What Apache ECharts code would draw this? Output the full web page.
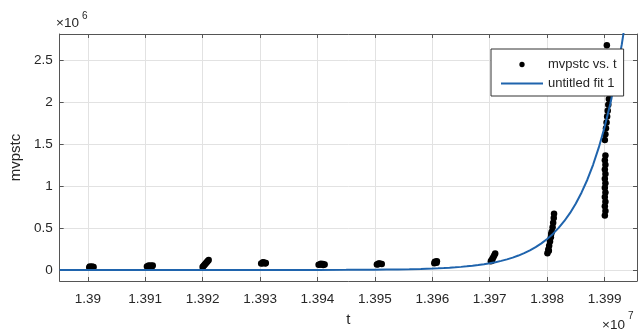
<!DOCTYPE html>
<html>
<head>
<meta charset="utf-8">
<script src="https://cdn.jsdelivr.net/npm/echarts@6/dist/echarts.min.js"></script>
<style>
  html, body { margin: 0; padding: 0; background: #fff; }
  #chart { width: 640px; height: 332px; }
</style>
</head>
<body>
<div id="chart"></div>
<script>
// Observed samples: t and mvpstc
const obsT = [
  13900250, 13900400, 13900550, 13900700, 13900850, 13901000, 13900350, 13900900,
  13910300, 13910500, 13910700, 13910900, 13911100, 13911300, 13910600, 13911200,
  13920000, 13920150, 13920300, 13920450, 13920600, 13920750, 13920900, 13921050,
  13930200, 13930400, 13930600, 13930800, 13931000, 13930500, 13930900,
  13940200, 13940450, 13940700, 13940950, 13941250, 13940600, 13941000,
  13950350, 13950550, 13950750, 13950950, 13951200, 13950650,
  13960350, 13960500, 13960650, 13960800, 13960450, 13960750,
  13970200, 13970350, 13970500, 13970650, 13970800, 13970950, 13970400,
  13980050, 13980200, 13980300, 13980350, 13980500, 13980650, 13980700, 13980800, 13980950, 13981050, 13981150, 13981200,
  13990050, 13990150, 13990050, 13990150, 13990050, 13990150, 13990050, 13990150, 13990050, 13990150, 13990050, 13990150, 13990050, 13990150,
  13990050, 13990150, 13990250, 13990350, 13990450, 13990550, 13990650, 13990750, 13990850, 13990950, 13991050,
  13990400
];
const obsV = [
  30000, 33000, 36000, 38000, 40000, 37000, 41000, 31000,
  42000, 45000, 48000, 50000, 52000, 55000, 53000, 45000,
  36000, 48000, 60000, 72000, 84000, 96000, 108000, 120000,
  78000, 82000, 86000, 88000, 84000, 92000, 78000,
  62000, 66000, 69000, 71000, 66000, 75000, 61000,
  66000, 70000, 74000, 76000, 72000, 79000,
  82000, 90000, 98000, 106000, 100000, 88000,
  105000, 120000, 138000, 156000, 176000, 196000, 112000,
  200000, 245000, 230000, 290000, 340000, 390000, 430000, 455000, 510000, 565000, 620000, 670000,
  650000, 705000, 760000, 815000, 870000, 925000, 980000, 1035000, 1090000, 1145000, 1200000, 1255000, 1310000, 1365000,
  1550000, 1620000, 1690000, 1760000, 1830000, 1900000, 1970000, 2040000, 2110000, 2180000, 2250000,
  2680000
];

// Exponential fit curve samples
const fitT = [
  13895100, 13920000, 13930000, 13940000, 13945000, 13950000, 13952000, 13954000,
  13956000, 13958000, 13960000, 13961000, 13962000, 13963000, 13964000, 13965000,
  13966000, 13967000, 13968000, 13969000, 13970000, 13971000, 13972000, 13973000,
  13974000, 13975000, 13976000, 13977000, 13978000, 13979000, 13980000, 13981000,
  13982000, 13983000, 13984000, 13985000, 13986000, 13987000, 13988000, 13989000,
  13990000, 13991000, 13992000, 13993000, 13994000
];
const fitV = [
  0, 40, 180, 830, 1800, 3800, 5200, 7000,
  9500, 12900, 17500, 20400, 23700, 27600, 32200, 37500,
  43700, 50900, 59300, 69000, 80400, 93600, 109000, 127000,
  148000, 172400, 200800, 234000, 272600, 317600, 370000, 431000,
  502000, 585000, 681000, 794000, 925000, 1077000, 1255000, 1462000,
  1702000, 1983000, 2310000, 2691000, 3135000
];

const tRange = [13895100, 13995650];
const vRange = [-131000, 2815000];

const FONT = '"Liberation Sans", Arial, Helvetica, sans-serif';
const TXT = '#262626';
const AXC = '#555555';
const GRIDC = '#e2e2e2';
const FITC = '#1f64ad';

const fmtT = v => String(parseFloat((v / 1e7).toFixed(4)));
const fmtV = v => String(parseFloat((v / 1e6).toFixed(2)));

function boxAxis(extra) {
  return Object.assign({
    type: 'value',
    axisLine: { show: true, onZero: false, lineStyle: { color: AXC, width: 1 } },
    axisTick: { show: true, inside: true, length: 4, lineStyle: { color: AXC } },
    axisLabel: { show: false },
    splitLine: { show: false }
  }, extra);
}

const chart = echarts.init(document.getElementById('chart'), null, { renderer: 'canvas' });

chart.setOption({
  animation: false,
  backgroundColor: '#ffffff',
  textStyle: { fontFamily: FONT },
  grid: { left: 55, right: 3, top: 34, bottom: 51, containLabel: false },
  xAxis: [
    boxAxis({
      position: 'bottom',
      min: tRange[0], max: tRange[1], splitNumber: 10,
      axisLabel: {
        show: true, formatter: fmtT, showMinLabel: false, showMaxLabel: false,
        margin: 11, fontSize: 13.5, color: TXT, fontFamily: FONT
      },
      splitLine: { show: true, lineStyle: { color: GRIDC, width: 1 } },
      name: 't', nameLocation: 'middle', nameGap: 31,
      nameTextStyle: { fontSize: 15, color: TXT, fontFamily: FONT }
    }),
    boxAxis({ position: 'top', min: tRange[0], max: tRange[1], splitNumber: 10 })
  ],
  yAxis: [
    boxAxis({
      position: 'left',
      min: vRange[0], max: vRange[1], splitNumber: 6,
      axisLabel: {
        show: true, formatter: fmtV, showMinLabel: false, showMaxLabel: false,
        margin: 7, fontSize: 13.5, color: TXT, fontFamily: FONT
      },
      splitLine: { show: true, lineStyle: { color: GRIDC, width: 1 } },
      name: 'mvpstc', nameLocation: 'middle', nameGap: 28,
      nameTextStyle: { fontSize: 15, color: TXT, fontFamily: FONT }
    }),
    boxAxis({ position: 'right', min: vRange[0], max: vRange[1], splitNumber: 6 })
  ],
  legend: {
    orient: 'vertical',
    left: 491, top: 49,
    padding: [9, 7, 6, 10],
    itemGap: 6,
    itemWidth: 42,
    itemHeight: 12,
    backgroundColor: '#ffffff',
    borderColor: '#333333',
    borderWidth: 1,
    borderRadius: 0,
    textStyle: { fontSize: 13, color: TXT, fontFamily: FONT },
    data: [
      { name: 'mvpstc vs. t', icon: 'path://M0,0M10,10M2.8,5a2.2,2.2 0 1,0 4.4,0a2.2,2.2 0 1,0 -4.4,0' },
      { name: 'untitled fit 1', icon: 'path://M0,0L42,0L42,2L0,2Z' }
    ]
  },
  graphic: [
    { type: 'text', left: 56, top: 16, style: { text: '×10', font: '13.5px ' + FONT, fill: TXT } },
    { type: 'text', left: 82, top: 11, style: { text: '6', font: '10px ' + FONT, fill: TXT } },
    { type: 'text', left: 602, top: 318, style: { text: '×10', font: '13.5px ' + FONT, fill: TXT } },
    { type: 'text', left: 628, top: 311, style: { text: '7', font: '10px ' + FONT, fill: TXT } }
  ],
  series: [
    {
      type: 'scatter',
      name: 'mvpstc vs. t',
      xAxisIndex: 0, yAxisIndex: 0,
      symbol: 'circle',
      symbolSize: 6.5,
      itemStyle: { color: '#000000', opacity: 1 },
      data: obsT.map((t, i) => [t, obsV[i]]),
      z: 2
    },
    {
      type: 'line',
      name: 'untitled fit 1',
      xAxisIndex: 0, yAxisIndex: 0,
      symbol: 'none',
      smooth: false,
      clip: true,
      lineStyle: { color: FITC, width: 2 },
      itemStyle: { color: FITC },
      data: fitT.map((t, i) => [t, fitV[i]]),
      z: 3
    }
  ]
});
</script>
</body>
</html>
